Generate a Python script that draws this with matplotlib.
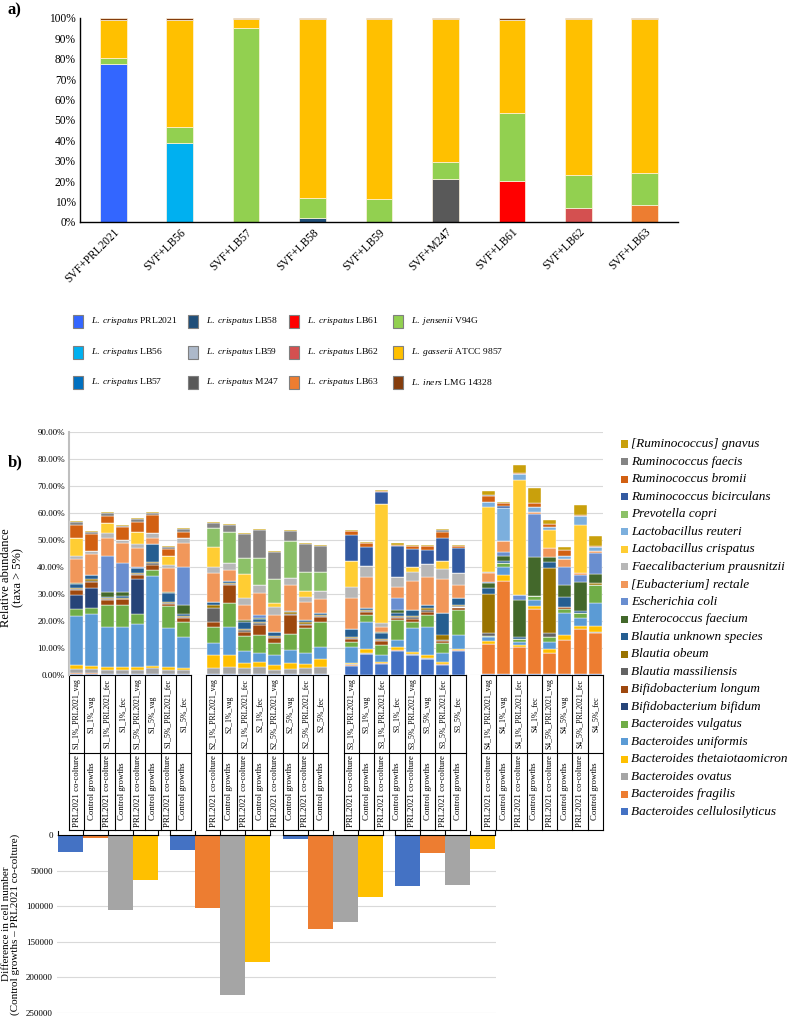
import numpy as np
import matplotlib.pyplot as plt
from matplotlib.patches import Rectangle

plt.rcParams['font.family'] = 'Liberation Serif'
plt.rcParams['mathtext.fontset'] = 'custom'
plt.rcParams['mathtext.it'] = 'Liberation Serif:italic'
plt.rcParams['mathtext.rm'] = 'Liberation Serif'

# ---------------- panel a data ----------------
svf_labels = ['SVF+PRL2021', 'SVF+LB56', 'SVF+LB57', 'SVF+LB58', 'SVF+LB59',
              'SVF+M247', 'SVF+LB61', 'SVF+LB62', 'SVF+LB63']
strain_species = ['L. crispatus'] * 9 + ['L. jensenii', 'L. gasserii', 'L. iners']
strain_ids = ['PRL2021', 'LB56', 'LB57', 'LB58', 'LB59', 'M247', 'LB61', 'LB62', 'LB63',
              'V94G', 'ATCC 9857', 'LMG 14328']
strain_colors = ['#3366FF', '#00B0F0', '#0070C0', '#1F4E79', '#ADB9CA', '#595959',
                 '#FF0000', '#D45050', '#ED7D31', '#92D050', '#FFC000', '#843C0C']
# each SVF bar holds its own crispatus strain + the three SVF species
own_strain = [77.5, 38.5, 0.0, 1.8, 0.0, 20.9, 20.1, 7.0, 8.3]
jensenii = [3.1, 8.2, 95.1, 9.9, 11.3, 8.5, 33.2, 16.0, 15.7]
gasserii = [18.4, 52.3, 4.6, 87.8, 88.2, 70.1, 45.7, 76.5, 75.5]
iners = [1.0, 1.0, 0.3, 0.5, 0.5, 0.5, 1.0, 0.5, 0.5]

# ---------------- panel b data ----------------
taxa = ['Bacteroides cellulosilyticus', 'Bacteroides fragilis', 'Bacteroides ovatus',
        'Bacteroides thetaiotaomicron', 'Bacteroides uniformis', 'Bacteroides vulgatus',
        'Bifidobacterium bifidum', 'Bifidobacterium longum', 'Blautia massiliensis',
        'Blautia obeum', 'Blautia unknown species', 'Enterococcus faecium',
        'Escherichia coli', '[Eubacterium] rectale', 'Faecalibacterium prausnitzii',
        'Lactobacillus crispatus', 'Lactobacillus reuteri', 'Prevotella copri',
        'Ruminococcus bicirculans', 'Ruminococcus bromii', 'Ruminococcus faecis',
        '[Ruminococcus] gnavus']
taxa_colors = ['#4472C4', '#ED7D31', '#A5A5A5', '#FFC000', '#5B9BD5', '#70AD47',
               '#264478', '#9E480E', '#636363', '#997300', '#255E91', '#43682B',
               '#698ED0', '#F1975A', '#B7B7B7', '#FFCD33', '#7CAFDD', '#8CC168',
               '#335AA1', '#D26012', '#848484', '#C9A00C']

donors = ['S1', 'S2', 'S3', 'S4']
sample_suffix = ['1%_PRL2021_vag', '1%_vag', '1%_PRL2021_fec', '1%_fec',
                 '5%_PRL2021_vag', '5%_vag', '5%_PRL2021_fec', '5%_fec']
conditions = ['PRL2021 co-colture', 'Control growths'] * 4

# rows = samples (order above), columns = taxa (order above), % abundance
s1_abund = [
    [0.3, 0.3, 1.8, 1.2, 18.3, 2.5, 5.2, 1.9, 0.5, 0.4, 1.3, 0.2, 0, 8.9, 1.4, 6.7, 0, 0, 0, 4.7, 0.9, 0.4],
    [0.3, 0.3, 1.6, 1.0, 19.4, 2.1, 7.6, 2.3, 0.4, 0.4, 1.6, 0, 0, 7.8, 1.0, 0, 0, 0, 0, 6.4, 0.9, 0.4],
    [0.2, 0.2, 1.6, 0.9, 14.8, 8.2, 0.2, 1.7, 0.3, 0.3, 0.4, 1.8, 13.6, 6.4, 1.9, 3.7, 0, 0, 0, 2.7, 1.0, 0.3],
    [0.2, 0.3, 1.4, 1.2, 14.8, 8.0, 0, 2.1, 0.3, 0.3, 0.7, 1.6, 10.7, 7.2, 1.2, 0, 0, 0, 0, 4.7, 0.5, 0.3],
    [0.2, 0.2, 1.5, 0.9, 16.0, 3.8, 12.8, 1.6, 0.3, 0.3, 1.9, 0.2, 0.4, 6.8, 1.6, 4.6, 0, 0, 0, 3.7, 0.9, 0.3],
    [0.2, 0.3, 2.0, 0.8, 33.2, 2.5, 0, 1.6, 0.8, 0.4, 6.7, 0, 0, 2.1, 1.9, 0, 0, 0, 0, 6.8, 0.8, 0.3],
    [0.2, 0.3, 1.3, 1.0, 14.5, 8.3, 0, 0.8, 0.3, 0.3, 3.5, 0.3, 0, 8.9, 1.2, 3.2, 0, 0, 0, 2.4, 0.9, 0.4],
    [0.2, 0.3, 1.4, 0.7, 11.3, 5.9, 0, 1.4, 0.3, 0.3, 0.8, 3.3, 14.2, 8.9, 1.6, 0, 0, 0, 0, 2.5, 0.9, 0.3],
]
s2_abund = [
    [0.2, 0.3, 2.2, 4.7, 4.3, 5.9, 0, 2.1, 5.0, 1.2, 1.3, 0, 0, 10.5, 2.4, 7.4, 0, 6.8, 0, 0, 2.1, 0.4],
    [0.2, 0.3, 2.6, 4.3, 10.5, 8.6, 0, 6.8, 0.3, 0.4, 0.9, 0, 0, 4.0, 2.6, 0, 0, 11.3, 0, 0, 2.9, 0.4],
    [0.2, 0.2, 2.2, 2.0, 4.3, 5.5, 0, 1.6, 0.5, 0.7, 2.6, 0.4, 0, 5.7, 2.5, 9.1, 0, 5.7, 0, 0, 9.0, 0.4],
    [0.2, 0.3, 2.6, 1.8, 3.1, 6.8, 0, 3.7, 0.7, 0.5, 0.9, 0.4, 1.4, 8.1, 2.8, 0, 0, 9.9, 0, 0, 10.4, 0.4],
    [0.2, 0.2, 1.5, 1.8, 3.7, 4.3, 0, 1.9, 0.4, 0.4, 1.6, 0, 0, 6.2, 3.1, 1.2, 0, 8.9, 0, 0, 10.3, 0.3],
    [0.2, 0.2, 1.7, 2.2, 5.0, 5.9, 0, 7.0, 0.5, 0.5, 0.4, 0, 0, 9.7, 2.5, 0, 0, 13.8, 0, 0, 3.7, 0.4],
    [0.2, 0.2, 2.1, 1.6, 3.9, 9.3, 0, 1.2, 0.5, 0.5, 1.0, 0, 0, 6.7, 1.8, 2.0, 0, 7.3, 0, 0, 10.1, 0.4],
    [0.2, 0.2, 2.7, 2.7, 4.7, 9.3, 0, 1.6, 0.4, 0.4, 0.9, 0, 0, 4.9, 3.2, 0, 0, 7.1, 0, 0, 9.3, 0.4],
]
s3_abund = [
    [3.5, 0.2, 0.3, 0.6, 5.6, 2.1, 0, 1.0, 0.4, 0.3, 2.9, 0, 0, 11.5, 4.1, 9.8, 0, 0, 9.6, 1.4, 0, 0.4],
    [7.6, 0.2, 0.2, 1.5, 10.3, 2.4, 0, 1.0, 0.4, 0.4, 0.7, 0, 0, 11.7, 4.0, 0, 0, 0, 6.9, 1.6, 0, 0.4],
    [4.2, 0.2, 0.2, 0.4, 2.4, 3.7, 0, 1.4, 0.5, 0.5, 2.0, 0.5, 0, 1.9, 1.5, 43.9, 0, 0, 4.3, 0.4, 0.2, 0.3],
    [9.0, 0.1, 0.2, 0.9, 2.8, 7.4, 0, 0.8, 0.4, 0.4, 1.1, 1.0, 4.3, 4.3, 3.7, 0, 0, 0, 11.4, 0.5, 0, 0.5],
    [7.3, 0.2, 0.2, 0.9, 8.7, 2.5, 0, 1.0, 0.5, 0.5, 2.3, 0, 0, 10.8, 3.4, 1.8, 0, 0, 6.5, 1.0, 0, 0.4],
    [5.8, 0.2, 0.2, 1.2, 10.3, 4.5, 0, 1.3, 0.6, 0.6, 1.2, 0, 0, 10.5, 4.7, 0, 0, 0, 5.3, 1.2, 0, 0.4],
    [3.8, 0.2, 0.1, 0.8, 3.1, 3.7, 0, 0.8, 0.5, 2.0, 8.1, 0, 0, 12.3, 3.7, 3.2, 0, 0, 8.6, 2.2, 0.6, 0.3],
    [8.9, 0.2, 0.2, 0.5, 5.0, 9.3, 0, 0.9, 0.5, 0.4, 2.5, 0, 0, 4.9, 4.4, 0, 0, 0, 9.2, 0.9, 0, 0.5],
]
s4_abund = [
    [0.3, 11.1, 0, 1.2, 1.4, 0.6, 0, 0, 1.1, 14.3, 2.1, 1.9, 0.4, 3.5, 0.4, 23.8, 2.1, 0, 0, 2.2, 0.4, 1.5],
    [0.3, 34.5, 0, 2.1, 3.2, 1.3, 0, 0, 0, 0, 0.8, 1.9, 1.6, 4.1, 0, 0, 11.9, 0, 0.9, 1.0, 0, 0.6],
    [0.3, 10.2, 0, 0.6, 1.2, 1.2, 0, 0, 0, 0, 0.4, 13.9, 1.8, 0, 0, 42.6, 2.2, 0, 0, 0.4, 0, 3.0],
    [0.3, 24.0, 0, 1.3, 2.2, 1.5, 0, 0, 0, 0, 0, 14.3, 16.0, 0.6, 0, 0, 2.1, 0, 0, 1.3, 0, 5.5],
    [0.3, 8.0, 0, 1.2, 2.8, 1.7, 0, 0, 1.4, 24.1, 2.5, 1.6, 0, 3.3, 0, 6.8, 1.0, 0, 0, 1.2, 0, 1.5],
    [0.3, 12.7, 0, 1.8, 8.0, 1.5, 0, 1.0, 0, 0, 3.7, 4.3, 6.8, 2.7, 0, 0, 1.3, 0, 0, 2.3, 0, 1.1],
    [0.3, 16.6, 0, 1.2, 2.9, 1.8, 0, 0, 0, 0, 1.0, 10.8, 2.4, 0.6, 0, 18.0, 3.3, 0, 0, 0.4, 0, 3.7],
    [0.3, 15.1, 0.6, 2.1, 8.7, 6.5, 0, 0, 0, 0.7, 0, 3.4, 7.7, 0.9, 0, 0, 1.3, 0, 0, 0.3, 0, 3.9],
]

# bottom panel: control minus co-colture cell numbers
diff_species = ['Bacteroides cellulosilyticus', 'Bacteroides fragilis',
                'Bacteroides ovatus', 'Bacteroides thetaiotaomicron']
diff_colors = ['#4472C4', '#ED7D31', '#A5A5A5', '#FFC000']
diff_cellulosilyticus = [23400, 21000, 6000, 71500]
diff_fragilis = [4700, 102000, 132000, 25700]
diff_ovatus = [105000, 225000, 122000, 69600]
diff_theta = [63000, 178500, 87000, 19000]

W, H = 792, 1019
fig = plt.figure(figsize=(W / 100, H / 100), dpi=100)


def px_axes(l, t, r, b):
    return fig.add_axes([l / W, 1 - b / H, (r - l) / W, (b - t) / H])


def fx(x):
    return x / W


def fy(y):
    return 1 - y / H


# ================= panel a =================
axa = px_axes(80, 18, 678, 222)
xa = np.arange(len(svf_labels))
bw = 0.4
ec = dict(edgecolor='#FFF5E0', linewidth=0.5)
axa.bar(xa, own_strain, bw, color=strain_colors[:9], **ec)
bottom = np.array(own_strain)
for vals, col in [(jensenii, strain_colors[9]), (gasserii, strain_colors[10]), (iners, strain_colors[11])]:
    axa.bar(xa, vals, bw, bottom=bottom, color=col, **ec)
    bottom = bottom + np.array(vals)
axa.set_xlim(-0.5, len(svf_labels) - 0.5)
axa.set_ylim(0, 100)
axa.set_yticks(np.arange(0, 101, 10))
axa.set_yticklabels([f'{v}%' for v in range(0, 101, 10)], fontsize=8.3)
axa.set_xticks(xa)
axa.set_xticklabels(svf_labels, rotation=45, ha='right', rotation_mode='anchor', fontsize=8.3)
axa.tick_params(length=0, pad=3)
for s in ['top', 'right']:
    axa.spines[s].set_visible(False)
for s in ['left', 'bottom']:
    axa.spines[s].set_color('black')
    axa.spines[s].set_linewidth(1.0)
fig.text(fx(8), fy(10), 'a)', fontsize=12, fontweight='bold', va='center')

# legend a
sq_x = [73, 188, 289, 393]
tx_x = [91, 206, 307, 411]
rows_y = [321, 352, 382]
for i, (sp, sid, col) in enumerate(zip(strain_species, strain_ids, strain_colors)):
    c, r = i // 3, i % 3
    fig.add_artist(Rectangle((fx(sq_x[c]), fy(rows_y[r] + 6.5)), 10 / W, 13 / H,
                             transform=fig.transFigure, facecolor=col,
                             edgecolor='#7F7F7F', linewidth=0.8))
    sp_tex = sp.replace(' ', r'\ ')
    fig.text(fx(tx_x[c]), fy(rows_y[r]), rf'$\mathit{{{sp_tex}}}$ {sid}',
             fontsize=6.8, va='center', ha='left')

# ================= panel b (relative abundance) =================
fig.text(fx(8), fy(462), 'b)', fontsize=12, fontweight='bold', va='center')
axb = px_axes(69, 432, 603, 675)
abund = np.vstack([np.array(s1_abund), np.array(s2_abund), np.array(s3_abund), np.array(s4_abund)])
xpos = np.array([g * 9 + k for g in range(4) for k in range(8)])
bottom = np.zeros(len(xpos))
for j, (name, col) in enumerate(zip(taxa, taxa_colors)):
    vals = abund[:, j] / 100.0
    axb.bar(xpos, vals, 0.85, bottom=bottom, color=col, edgecolor='white', linewidth=0.3, zorder=3)
    bottom = bottom + vals
axb.set_xlim(-0.5, 34.5)
axb.set_ylim(0, 0.9)
yt = np.arange(0, 0.91, 0.1)
axb.set_yticks(yt)
axb.set_yticklabels([f'{v * 100:.2f}%' for v in yt], fontsize=6.5)
axb.set_xticks([])
axb.tick_params(length=0, pad=3)
axb.grid(axis='y', color='#D9D9D9', linewidth=0.8, zorder=0)
for s in ['top', 'right', 'bottom']:
    axb.spines[s].set_visible(False)
axb.spines['left'].set_color('#BFBFBF')
axb.spines['left'].set_linewidth(1.5)

fig.text(fx(12), fy(578), 'Relative abundance\n(taxa > 5%)', rotation=90,
         ha='center', va='center', fontsize=9, multialignment='center', linespacing=1.0)

# category table under the bars
trans = axb.get_xaxis_transform()
y_top, y_mid, y_bot = 0.0, (675 - 753) / 243, (675 - 830) / 243
lk = dict(color='black', linewidth=0.8, transform=trans, clip_on=False)
for g in range(4):
    x0, x1 = g * 9 - 0.5, g * 9 + 7.5
    for yy in (y_top, y_mid, y_bot):
        axb.plot([x0, x1], [yy, yy], **lk)
    for k in range(9):
        xx = g * 9 - 0.5 + k
        axb.plot([xx, xx], [y_top, y_bot], **lk)
    for k in range(8):
        axb.text(g * 9 + k, (y_top + y_mid) / 2, f'{donors[g]}_{sample_suffix[k]}', rotation=90,
                 ha='center', va='center', fontsize=5.6, transform=trans)
        axb.text(g * 9 + k, (y_mid + y_bot) / 2, conditions[k], rotation=90,
                 ha='center', va='center', fontsize=6.3, transform=trans)

# legend b (top entry = last taxon)
for i, (name, col) in enumerate(zip(taxa[::-1], taxa_colors[::-1])):
    yc = 444 + 17.52 * i
    fig.add_artist(Rectangle((fx(621), fy(yc + 3.5)), 7 / W, 7 / H,
                             transform=fig.transFigure, facecolor=col, edgecolor='none'))
    fig.text(fx(631), fy(yc), name, fontsize=9.5, style='italic', va='center', ha='left')

# ================= bottom panel (cell number difference) =================
axc = px_axes(57, 835, 496, 1013)
gx = np.arange(4)
dbw = 0.2222
for i, (vals, col) in enumerate(zip([diff_cellulosilyticus, diff_fragilis, diff_ovatus, diff_theta], diff_colors)):
    axc.bar(gx + (i - 1.5) * dbw, vals, dbw, color=col, zorder=3, label=diff_species[i])
axc.set_xlim(-0.4444 - 0.01, 3.4444 + 0.01)
axc.set_ylim(250000, 0)
axc.set_yticks(np.arange(0, 250001, 50000))
axc.set_yticklabels([str(v) for v in range(0, 250001, 50000)], fontsize=6.5)
axc.set_xticks([])
axc.tick_params(length=0, pad=3)
axc.grid(axis='y', color='#D9D9D9', linewidth=0.8, zorder=0)
for s in axc.spines.values():
    s.set_visible(False)
# grouped category axis line at zero with ticks between bars
ctrans = axc.get_xaxis_transform()
for g in range(4):
    axc.plot([g - 2 * dbw, g + 2 * dbw], [1, 1], color='black', linewidth=0.8,
             transform=ctrans, clip_on=False, zorder=4)
    for k in range(5):
        xx = g - 2 * dbw + k * dbw
        axc.plot([xx, xx], [1, 1 + 4 / 178], color='black', linewidth=0.8,
                 transform=ctrans, clip_on=False, zorder=4)

fig.text(fx(11), fy(924), 'Difference in cell number\n(Control growths \u2013 PRL2021 co-colture)',
         rotation=90, ha='center', va='center', fontsize=8, multialignment='center', linespacing=1.0)

fig.savefig('out.png', dpi=100)
